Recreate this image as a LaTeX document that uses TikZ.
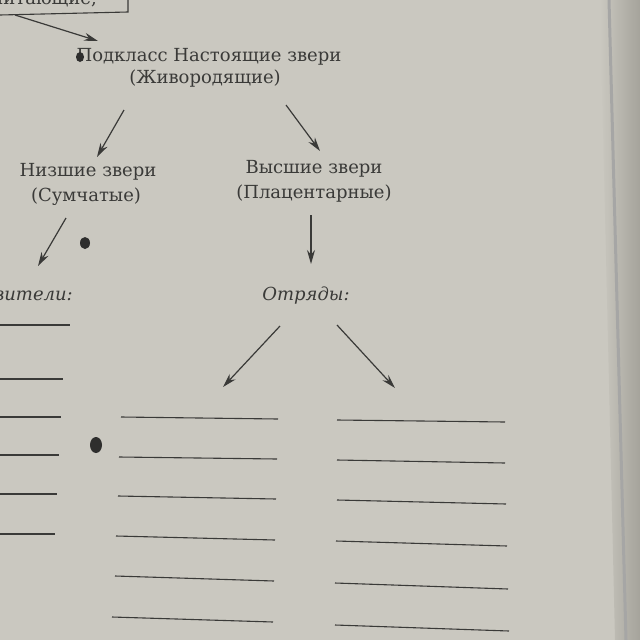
\documentclass[tikz,border=0pt]{standalone}
\usepackage{fontspec}
\setmainfont{DejaVu Serif}
\usetikzlibrary{arrows.meta}
\definecolor{paper}{RGB}{202,200,192}
\definecolor{paperdark}{RGB}{165,163,155}
\definecolor{ink}{RGB}{58,58,56}
\tikzset{
  lbl/.style={text=ink, font=\fontsize{18}{20}\selectfont, inner sep=0pt},
  ilbl/.style={text=ink, font=\fontsize{18}{20}\selectfont\itshape, inner sep=0pt},
  arr/.style={draw=ink, line width=1.2pt, -{Stealth[length=14pt,width=8pt]}},
  blank/.style={draw=ink, line width=1.1pt},
  spot/.style={fill=ink!80!black}
}
\begin{document}
\begin{tikzpicture}[x=1pt,y=-1pt]
\useasboundingbox (0,0) rectangle (640,640);
\fill[paper] (0,0) rectangle (640,640);
\shade[left color=paper, right color=paperdark] (600,0) -- (640,0) -- (640,640) -- (615,640) -- cycle;
\draw[ink!45, line width=3pt] (609,0) -- (626,640);
% top box (clipped)
\begin{scope}
\clip (0,0) rectangle (640,640);
\node[lbl, anchor=base east] (topt) at (97,4) {Млекопитающие,};
\end{scope}
\draw[ink, line width=1.1pt] (0,15) -- (128,12) -- (128,0);
\coordinate (boxout) at (15,15);
% nodes
\node[lbl] (sub1) at (209,57) {Подкласс Настоящие звери};
\node[lbl] (sub2) at (205,79) {(Живородящие)};
\node[lbl] (low1) at (88,172) {Низшие звери};
\node[lbl] (low2) at (86,197) {(Сумчатые)};
\node[lbl] (high1) at (314,169) {Высшие звери};
\node[lbl] (high2) at (314,194) {(Плацентарные)};
\node[ilbl, anchor=east] (repr) at (73,296) {Представители:};
\node[ilbl] (ord) at (306,296) {Отряды:};
% arrow anchor coordinates
\coordinate (a1s) at (124,110); \coordinate (a1e) at (97,157);
\coordinate (a2s) at (286,105); \coordinate (a2e) at (320,151);
\coordinate (a3s) at (66,218);  \coordinate (a3e) at (38,266);
\coordinate (a4s) at (311,215); \coordinate (a4e) at (311,264);
\coordinate (a5s) at (280,326); \coordinate (a5e) at (223,387);
\coordinate (a6s) at (337,325); \coordinate (a6e) at (395,388);
\coordinate (topend) at (98,41);
\draw[arr] (boxout) -- (topend);
\draw[arr] (a1s) -- (a1e);
\draw[arr] (a2s) -- (a2e);
\draw[arr] (a3s) -- (a3e);
\draw[arr] (a4s) -- (a4e);
\draw[arr] (a5s) -- (a5e);
\draw[arr] (a6s) -- (a6e);
% left blanks
\draw[blank] (0,325) -- (70,325);
\draw[blank] (0,379) -- (63,379);
\draw[blank] (0,417) -- (61,417);
\draw[blank] (0,455) -- (59,455);
\draw[blank] (0,494) -- (57,494);
\draw[blank] (0,534) -- (55,534);
% middle blanks
\draw[blank] (121,417) -- (278,419);
\draw[blank] (119,457) -- (277,459);
\draw[blank] (118,496) -- (276,499);
\draw[blank] (116,536) -- (275,540);
\draw[blank] (115,576) -- (274,581);
\draw[blank] (112,617) -- (273,622);
% right blanks
\draw[blank] (337,420) -- (505,422);
\draw[blank] (337,460) -- (505,463);
\draw[blank] (337,500) -- (506,504);
\draw[blank] (336,541) -- (507,546);
\draw[blank] (335,583) -- (508,589);
\draw[blank] (335,625) -- (509,631);
% ink spots
\fill[spot] (96,445) ellipse (6 and 8);
\fill[spot] (85,243) ellipse (5 and 6);
\fill[spot] (80,57) ellipse (4 and 5);
\end{tikzpicture}
\end{document}
